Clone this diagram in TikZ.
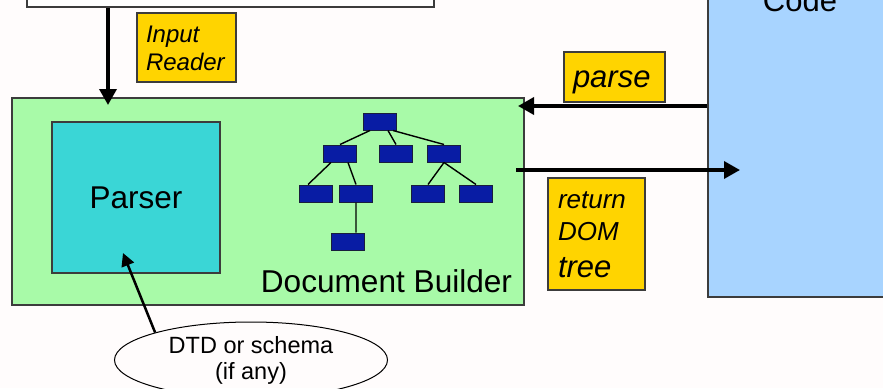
\documentclass[tikz,border=0pt]{standalone}
\usepackage{fontspec}
\setmainfont{Liberation Sans}
\usetikzlibrary{arrows.meta,shapes.geometric}
\definecolor{paper}{RGB}{255,252,252}
\definecolor{boxline}{RGB}{60,60,60}
\definecolor{buildgreen}{RGB}{168,250,168}
\definecolor{parsercyan}{RGB}{58,214,214}
\definecolor{leafblue}{RGB}{8,28,164}
\definecolor{leafline}{RGB}{25,30,60}
\definecolor{tagyellow}{RGB}{255,212,0}
\definecolor{codeblue}{RGB}{168,212,255}
\tikzset{
  box/.style={draw=boxline,line width=1.2pt,inner sep=0pt},
  tag/.style={box,fill=tagyellow,align=left},
  leaf/.style={draw=leafline,fill=leafblue,line width=1pt,inner sep=0pt,
    minimum width=33pt,minimum height=17pt},
  twig/.style={line width=1.4pt},
  flow/.style={line width=3.5pt,-{Triangle[length=16pt,width=17pt]}},
  thinflow/.style={line width=2.5pt,-{Triangle[length=13pt,width=13pt]}}
}

\begin{document}
\begin{tikzpicture}[x=1pt,y=-1pt]
\path[fill=paper,use as bounding box](0,0)rectangle(883,388);
\clip(0,0)rectangle(883,388);
\node[box,fill=white,minimum width=407pt,minimum height=67pt](xmldoc)at(230.5,-26.5){};
\node[box,fill=codeblue,minimum width=252pt,minimum height=357pt](code)at(834,118.5){};
\node[anchor=base,font=\fontsize{31}{37}\selectfont](codelabel)at(800,12){Code};
\node[box,fill=buildgreen,minimum width=512pt,minimum height=207pt](builder)at(268,201.5){};
\node[box,fill=parsercyan,minimum width=168pt,minimum height=151pt,
  font=\fontsize{31.5}{36}\selectfont](parser)at(136,197.5){Parser};
\node[anchor=base,font=\fontsize{31.6}{37}\selectfont](buildlabel)at(386.5,292){Document Builder};
\node[leaf](t0)at(380,121.5){};
\node[leaf](t1)at(340,153.5){};
\node[leaf](t2)at(396,153.5){};
\node[leaf](t3)at(444,153.5){};
\node[leaf](t11)at(316,193.5){};
\node[leaf](t12)at(356,193.5){};
\node[leaf](t31)at(428,193.5){};
\node[leaf](t32)at(476,193.5){};
\node[leaf](t121)at(348,241.5){};
\draw[twig]([xshift=-10pt]t0.south)--(t1.north)([xshift=8pt]t0.south)--(t2.north)
([xshift=13pt]t0.south)--(t3.north)([xshift=-9pt]t1.south)--([xshift=-8pt]t11.north)
([xshift=8pt]t1.south)--(t12.north)(t12.south)--([xshift=8pt]t121.north)
(t3.south)--(t31.north)(t3.south)--(t32.north);
\node[tag,text width=81pt,inner xsep=9pt,minimum height=69pt,text height=22pt,text depth=33pt,
  font=\itshape\fontsize{24}{28}\selectfont](reader)at(186.5,47.5){Input\\Reader};
\node[tag,text width=83pt,inner xsep=9pt,minimum height=50pt,text height=21pt,text depth=1pt,
  font=\itshape\fontsize{31}{37}\selectfont](parse)at(614.5,77){parse};
\node[tag,text width=77pt,inner xsep=10pt,minimum height=112pt,text height=19pt,text depth=71pt,
  font=\itshape\fontsize{26}{32}\selectfont](ret)at(596.5,234)
  {return\\DOM\\[5pt]{\fontsize{31}{37}\selectfont tree}};
\node[ellipse,draw=black,line width=1pt,inner sep=0pt,minimum width=273pt,minimum height=76pt,
  align=center,font=\fontsize{23.5}{26}\selectfont](schema)at(251,360){DTD or schema\\(if any)};
\coordinate(inTip)at(108,105);
\coordinate(parseTip)at(518,106);
\coordinate(retFrom)at(516,170);
\coordinate(retTip)at(740,170);
\coordinate(schemaTip)at(123,253);
\draw[flow](xmldoc.south -| inTip)--(inTip);
\draw[flow](code.west |- parseTip)--(parseTip);
\draw[flow](retFrom)--(retTip);
\draw[thinflow](schema.164)--(schemaTip);
\end{tikzpicture}
\end{document}
